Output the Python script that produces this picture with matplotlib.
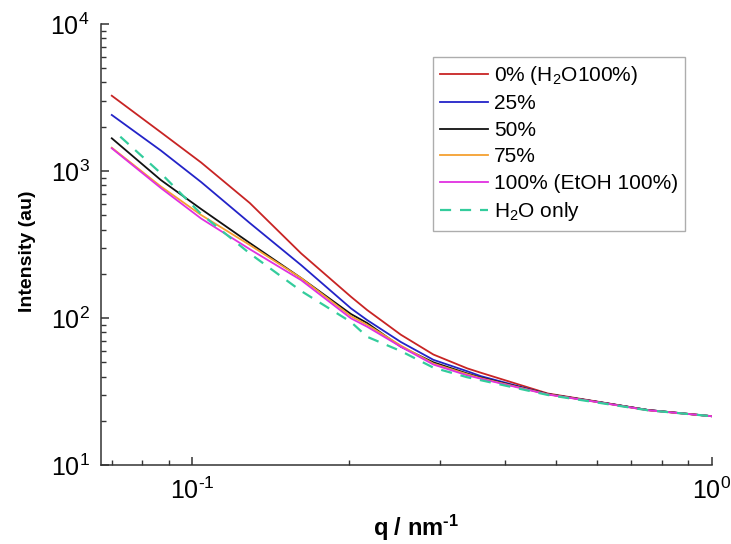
import numpy as np
import matplotlib
matplotlib.use('Agg')
import matplotlib.pyplot as plt
from matplotlib.ticker import LogLocator, NullFormatter, FuncFormatter

plt.rcParams['font.family'] = ['Liberation Sans', 'DejaVu Sans']
plt.rcParams['mathtext.fontset'] = 'custom'
plt.rcParams['mathtext.rm'] = 'Liberation Sans'
plt.rcParams['mathtext.bf'] = 'Liberation Sans:bold'
plt.rcParams['mathtext.default'] = 'regular'

# scattering vector q (nm^-1)
q = [0.070, 0.087, 0.104, 0.129, 0.162, 0.202, 0.217, 0.252, 0.291, 0.338,
     0.359, 0.483, 0.603, 0.753, 1.0]
q_water = [0.0727, 0.087, 0.104, 0.129, 0.162, 0.202, 0.217, 0.252, 0.291,
           0.338, 0.359, 0.483, 0.603, 0.753, 1.0]

# intensities (au)
i_0 = [3250, 1834, 1142, 606, 275, 139.6, 113.4, 77, 56.5, 45.5, 42.5, 30.7, 27.0, 23.7, 21.5]
i_25 = [2404, 1378, 841, 443, 229, 116.4, 96.9, 68.7, 52, 43.5, 40.3, 30.4, 26.9, 23.7, 21.5]
i_50 = [1669, 868, 551, 324, 187, 106.5, 92.5, 63.8, 50, 42, 39.4, 30.4, 26.9, 23.7, 21.5]
i_75 = [1440, 785, 502, 314, 187, 103, 90, 65, 49, 41.5, 39, 30.3, 26.8, 23.6, 21.5]
i_100 = [1427, 766, 475, 294, 181, 99.5, 87.3, 63.8, 48.3, 40.8, 38.7, 30.2, 26.8, 23.6, 21.5]
i_water = [1711, 965, 510, 275, 152.7, 94, 74.6, 59.6, 46, 39.6, 37.8, 30.0, 26.6, 23.6, 21.5]


def pow10(v, pos):
    e = int(round(np.log10(v)))
    s = str(e).replace('-', '\u2010')
    return '10$^{' + s + '}$'


fig = plt.figure(figsize=(7.31, 5.44), dpi=100)
ax = fig.add_axes([0.138, 0.145, 0.836, 0.811])

lw = 1.3
ax.plot(q, i_0, color='#c82424', lw=lw, label='0% (H$_2$O100%)')
ax.plot(q, i_25, color='#2323c8', lw=lw, label='25%')
ax.plot(q, i_50, color='#111111', lw=lw, label='50%')
ax.plot(q, i_75, color='#f5a030', lw=lw, label='75%')
ax.plot(q, i_100, color='#e030e0', lw=lw, label='100% (EtOH 100%)')
ax.plot(q_water, i_water, color='#33cc9c', lw=1.6, ls=(0, (5, 4)), label='H$_2$O only')

ax.set_xscale('log')
ax.set_yscale('log')
ax.set_xlim(0.0667, 1.0)
ax.set_ylim(10, 1e4)

ax.spines['top'].set_visible(False)
ax.spines['right'].set_visible(False)
for s in ('left', 'bottom'):
    ax.spines[s].set_linewidth(1.1)
    ax.spines[s].set_color('#333333')

ax.xaxis.set_minor_locator(LogLocator(base=10, subs=np.arange(2, 10)))
ax.yaxis.set_minor_locator(LogLocator(base=10, subs=np.arange(2, 10)))
ax.xaxis.set_minor_formatter(NullFormatter())
ax.yaxis.set_minor_formatter(NullFormatter())
ax.xaxis.set_major_formatter(FuncFormatter(pow10))
ax.yaxis.set_major_formatter(FuncFormatter(pow10))
ax.tick_params(which='major', direction='in', length=6, width=1.1, labelsize=18,
               color='#333333')
ax.tick_params(which='minor', direction='in', length=3.5, width=1.0, color='#333333')
ax.tick_params(axis='x', pad=9)
ax.tick_params(axis='y', pad=8)

ax.set_xlabel('q / nm$^{\u20101}$', fontsize=17, fontweight='bold')
ax.set_ylabel('Intensity (au)', fontsize=14, fontweight='bold')
ax.xaxis.set_label_coords(0.5155, -0.108)
ax.yaxis.set_label_coords(-0.106, 0.485)

leg = ax.legend(loc='upper left', bbox_to_anchor=(0.543, 0.926), fontsize=15,
                frameon=True, fancybox=False, handlelength=2.3, handletextpad=0.28,
                labelspacing=0.36, borderpad=0.35, borderaxespad=0)
leg.get_frame().set_edgecolor('#999999')
leg.get_frame().set_linewidth(1.0)

fig.savefig('out.png', dpi=100)
